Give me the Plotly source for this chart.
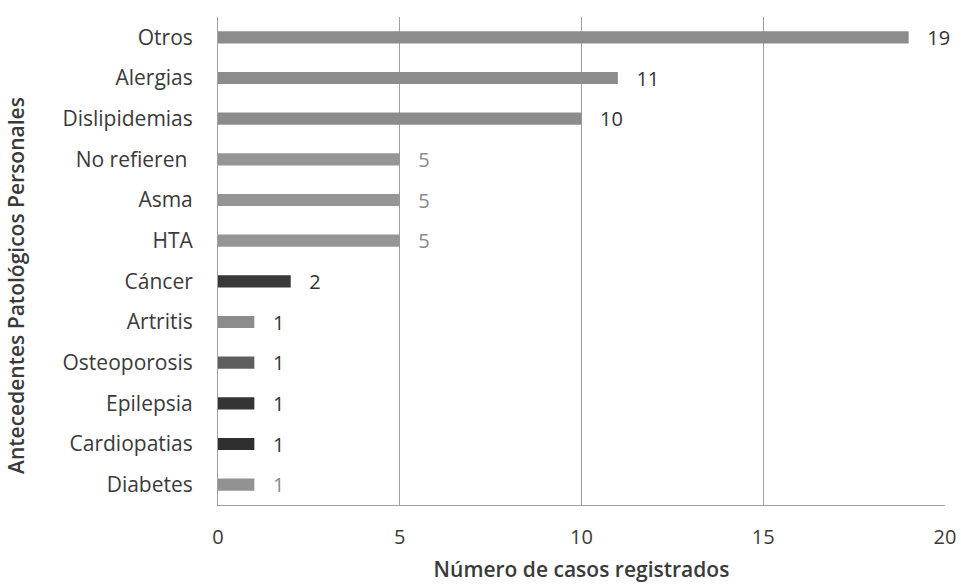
import plotly.graph_objects as go

# Personal pathological history: number of recorded cases
categorias = ["Otros", "Alergias", "Dislipidemias", "No refieren ", "Asma", "HTA",
              "Cáncer", "Artritis", "Osteoporosis", "Epilepsia", "Cardiopatias", "Diabetes"]
casos = [19, 11, 10, 5, 5, 5, 2, 1, 1, 1, 1, 1]
colores = ["#8c8c8c", "#8c8c8c", "#8c8c8c", "#959595", "#959595", "#959595",
           "#383838", "#8c8c8c", "#5e5e5e", "#343434", "#2f2f2f", "#929292"]
color_etiqueta = ["#333333", "#333333", "#333333", "#8a8a8a", "#8a8a8a", "#8a8a8a",
                  "#333333", "#333333", "#333333", "#333333", "#333333", "#8a8a8a"]
ticks_x = [0, 5, 10, 15, 20]

fuente = "'Open Sans', Lato, sans-serif"
gris_texto = "#3a3a3a"
margen_izq = 218
margen_der = 16
margen_sup = 17
margen_inf = 81
ancho_plot = 961 - margen_izq - margen_der
alto_plot = 586 - margen_sup - margen_inf

fig = go.Figure(go.Bar(
    y=categorias,
    x=casos,
    orientation="h",
    marker=dict(color=colores, line=dict(width=0)),
    texttemplate="   %{x}",
    textposition="outside",
    constraintext="none",
    textfont=dict(family=fuente, size=20, color=color_etiqueta),
    cliponaxis=False,
))

fig.update_layout(
    width=961, height=586,
    margin=dict(l=margen_izq, r=margen_der, t=margen_sup, b=margen_inf),
    paper_bgcolor="white",
    plot_bgcolor="white",
    bargap=0.7,
    showlegend=False,
    font=dict(family=fuente, color=gris_texto),
    xaxis=dict(
        range=[0, 20],
        tickvals=ticks_x,
        automargin=False,
        showgrid=True,
        gridcolor="#a0a0a0",
        gridwidth=1,
        zeroline=False,
        showline=True,
        linecolor="#a0a0a0",
        ticks="",
        ticklabelstandoff=14,
        tickfont=dict(size=20, color=gris_texto),
        title=dict(text="Número de casos registrados",
                   font=dict(size=21, color=gris_texto, weight=600), standoff=13),
    ),
    yaxis=dict(
        categoryorder="array",
        categoryarray=categorias[::-1],
        automargin=False,
        showgrid=False,
        showline=True,
        linecolor="#a0a0a0",
        ticks="",
        ticklabelstandoff=20,
        tickfont=dict(size=21, color=gris_texto),
    ),
    annotations=[dict(
        text="Antecedentes Patológicos Personales",
        textangle=-90,
        xref="paper", yref="paper",
        x=(16 - margen_izq) / ancho_plot,
        y=(margen_sup + alto_plot - 286) / alto_plot,
        xanchor="center", yanchor="middle",
        showarrow=False,
        font=dict(size=21, color=gris_texto, weight=600),
    )],
)

fig.write_html("out.html")
